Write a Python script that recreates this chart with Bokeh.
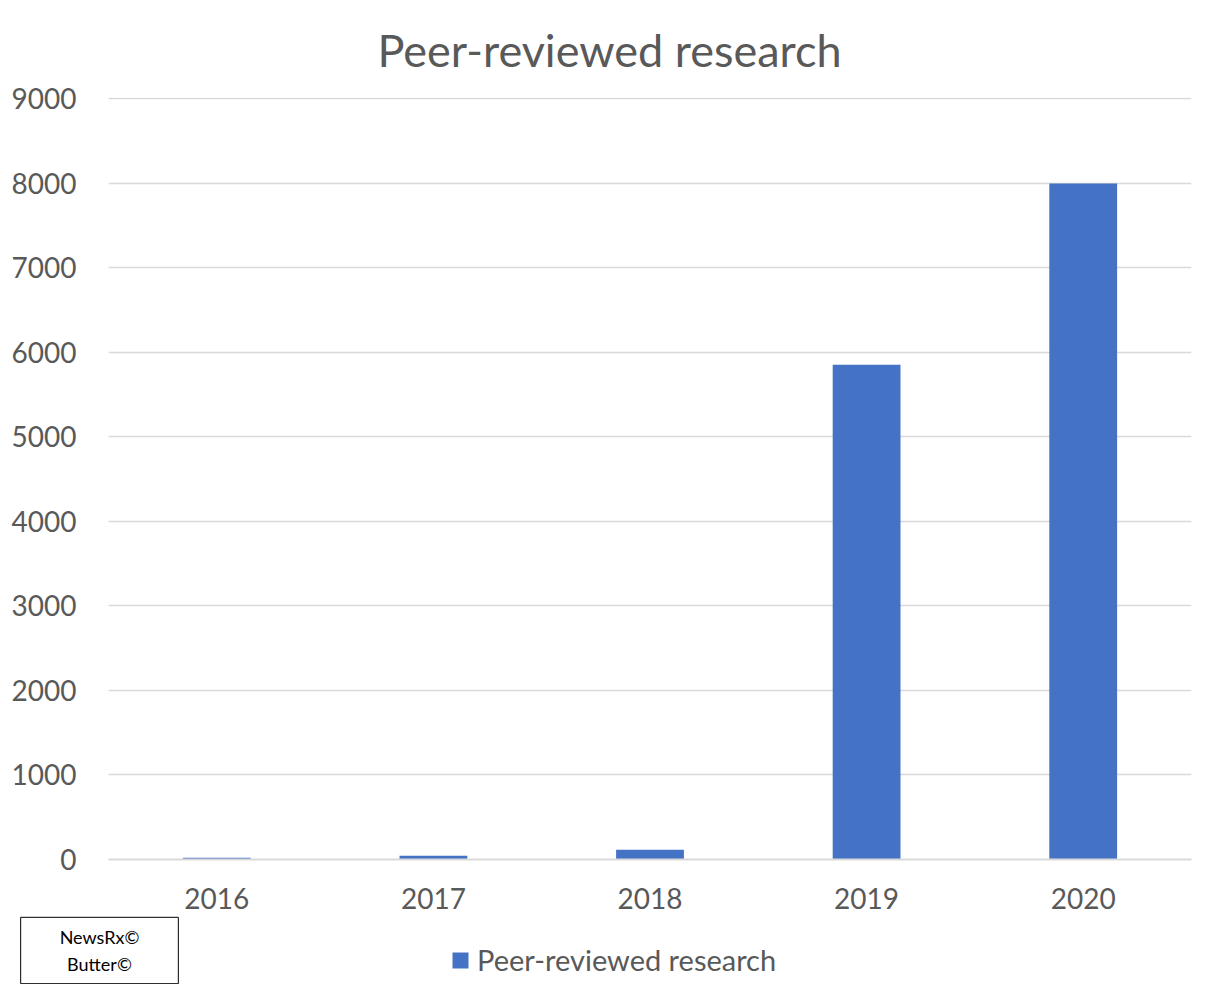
from bokeh.plotting import figure
from bokeh.layouts import column
from bokeh.models import Legend, LegendItem, Label, ColumnDataSource, FixedTicker
from bokeh.embed import file_html
from bokeh.resources import INLINE

years = ["2016", "2017", "2018", "2019", "2020"]
counts = [20, 45, 115, 5850, 7995]
series_name = "Peer-reviewed research"
chart_title = "Peer-reviewed research"
y_ticks = [0, 1000, 2000, 3000, 4000, 5000, 6000, 7000, 8000, 9000]
note_text = "NewsRx©\nButter©"

FONT = "Lato"
TXT = "#595959"
BAR = "#4472C4"
GRID = "#d9d9d9"

src = ColumnDataSource(dict(x=years, top=counts))


def strip(height):
    f = figure(width=1202, height=height, x_range=(0, 1), y_range=(0, 1),
               output_backend="svg", toolbar_location=None,
               x_axis_location=None, y_axis_location=None,
               min_border=0, min_border_left=0, min_border_right=0,
               min_border_top=0, min_border_bottom=0)
    f.outline_line_color = None
    f.grid.visible = False
    f.frame_align = False
    return f


# title strip
p0 = strip(78)
p0.add_layout(Label(x=609, y=29, x_units="screen", y_units="screen",
                    text=chart_title, text_font=FONT, text_font_size="45px",
                    text_color=TXT, text_align="center",
                    text_baseline="alphabetic"))

# main chart
p = figure(x_range=years, y_range=(0, 9012),
           frame_width=1083, frame_height=762,
           output_backend="svg", toolbar_location=None,
           min_border_left=108, min_border_right=11, min_border_top=19,
           min_border_bottom=56)
p.outline_line_color = None
p.frame_align = False

r = p.vbar(x="x", top="top", width=0.313, source=src, fill_color=BAR, line_color=None)

p.yaxis.ticker = FixedTicker(ticks=y_ticks)
p.yaxis.axis_line_color = None
p.yaxis.major_tick_line_color = None
p.yaxis.minor_tick_line_color = None
p.yaxis.major_label_text_font = FONT
p.yaxis.major_label_text_font_size = "28px"
p.yaxis.major_label_text_color = TXT
p.yaxis.major_label_standoff = 26

p.xaxis.axis_line_color = GRID
p.xaxis.axis_line_width = 2
p.xaxis.major_tick_line_color = None
p.xaxis.minor_tick_line_color = None
p.xaxis.major_label_text_font = FONT
p.xaxis.major_label_text_font_size = "28px"
p.xaxis.major_label_text_color = TXT
p.xaxis.major_label_standoff = 22

p.xgrid.grid_line_color = None
p.ygrid.grid_line_color = GRID
p.ygrid.grid_line_width = 1.5

# bottom strip: legend and credit box
p2 = figure(width=1202, height=69, x_range=years, y_range=(-2, -1),
            output_backend="svg", toolbar_location=None,
            x_axis_location=None, y_axis_location=None,
            min_border=0, min_border_left=0, min_border_right=0,
            min_border_top=0, min_border_bottom=0)
p2.outline_line_color = None
p2.grid.visible = False
p2.frame_align = False
swatch = p2.vbar(x="x", top="top", width=0.313, source=src,
                 fill_color=BAR, line_color=None, visible=False)

legend = Legend(items=[LegendItem(label=series_name, renderers=[swatch])],
                orientation="horizontal", location=(450, 7),
                label_text_font=FONT, label_text_font_size="29px",
                label_text_color=TXT, glyph_width=20, glyph_height=20,
                border_line_color=None, background_fill_alpha=0,
                inactive_fill_alpha=0,
                label_standoff=7, margin=0, padding=0)
p2.add_layout(legend)

note = Label(x=99, y=34, x_units="screen", y_units="screen",
             text=note_text, text_font=FONT, text_font_size="18px",
             text_color="black", text_align="center", text_baseline="middle",
             text_line_height=1.2,
             border_line_color="black", border_line_width=1,
             background_fill_color="white", padding=(39, 9))
p2.add_layout(note)

layout = column(p0, p, p2, spacing=0)
open("out.html", "w").write(file_html(layout, INLINE))
